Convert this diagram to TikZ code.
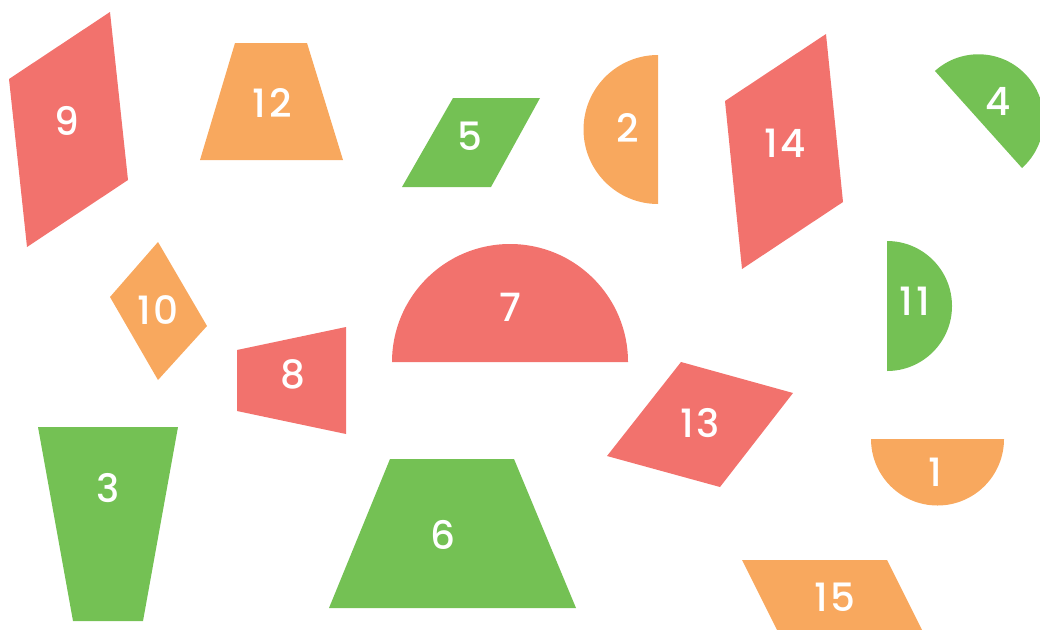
\documentclass[tikz,border=0pt]{standalone}
\usepackage{fontspec}
\setmainfont{Poppins}
\newfontfamily\lblfont{Poppins}[UprightFont={* Medium},LetterSpace=8]
\definecolor{cred}{HTML}{F2726D}
\definecolor{corange}{HTML}{F8A85E}
\definecolor{cgreen}{HTML}{74C154}
\begin{document}
\begin{tikzpicture}[x=1pt,y=-1pt,
  lbl/.style={text=white,font=\lblfont\fontsize{39}{39}\selectfont,inner sep=0pt}]
\useasboundingbox (0,0) rectangle (1040,629);
\begin{scope}
\clip (0,0) rectangle (1040,629);
% 9
\fill[cred] (9,79) -- (110,12) -- (128,180) -- (27,247) -- cycle;
\node[lbl] (n9) at (67,121) {9};
% 12
\fill[corange] (235,43) -- (307,43) -- (343,160) -- (200,160) -- cycle;
\node[lbl] (n12) at (272,103) {12};
% 5
\fill[cgreen] (453,98) -- (540,98) -- (491,187) -- (402,187) -- cycle;
\node[lbl] (n5) at (470,136) {5};
% 2
\fill[corange] (658,55) arc[start angle=-90,end angle=-270,radius=74.5] -- cycle;
\node[lbl] (n2) at (628,128) {2};
% 14
\fill[cred] (725,101) -- (826,34) -- (843,202) -- (742,269) -- cycle;
\node[lbl] (n14) at (785,143) {14};
% 4
\fill[cgreen] (1022,168) arc[start angle=48.1,end angle=-131.9,radius=65.2] -- cycle;
\node[lbl] (n4) at (998,101) {4};
% 10
\fill[corange] (158,242) -- (207,326) -- (158,380) -- (110,297) -- cycle;
\node[lbl] (n10) at (158,310) {10};
% 7
\fill[cred] (392,362) arc[start angle=180,end angle=360,radius=118] -- cycle;
\node[lbl] (n7) at (510,307) {7};
% 8
\fill[cred] (237,350) -- (346,327) -- (346,434) -- (237,411) -- cycle;
\node[lbl] (n8) at (293,374) {8};
% 11
\fill[cgreen] (887,241) arc[start angle=-90,end angle=90,radius=65] -- cycle;
\node[lbl] (n11) at (915,301) {11};
% 3
\fill[cgreen] (38,427) -- (178,427) -- (143,621) -- (73,621) -- cycle;
\node[lbl] (n3) at (108,488) {3};
% 6
\fill[cgreen] (390,459) -- (514,459) -- (576,608) -- (329,608) -- cycle;
\node[lbl] (n6) at (443,535) {6};
% 13
\fill[cred] (681,362) -- (793,393) -- (720,487) -- (607,456) -- cycle;
\node[lbl] (n13) at (700,423) {13};
% 1
\fill[corange] (871,439) arc[start angle=180,end angle=0,radius=66.5] -- cycle;
\node[lbl] (n1) at (935,472) {1};
% 15
\fill[corange] (742,560) -- (887,560) -- (924,634) -- (779,634) -- cycle;
\node[lbl] (n15) at (835,597) {15};
\end{scope}
\end{tikzpicture}
\end{document}
